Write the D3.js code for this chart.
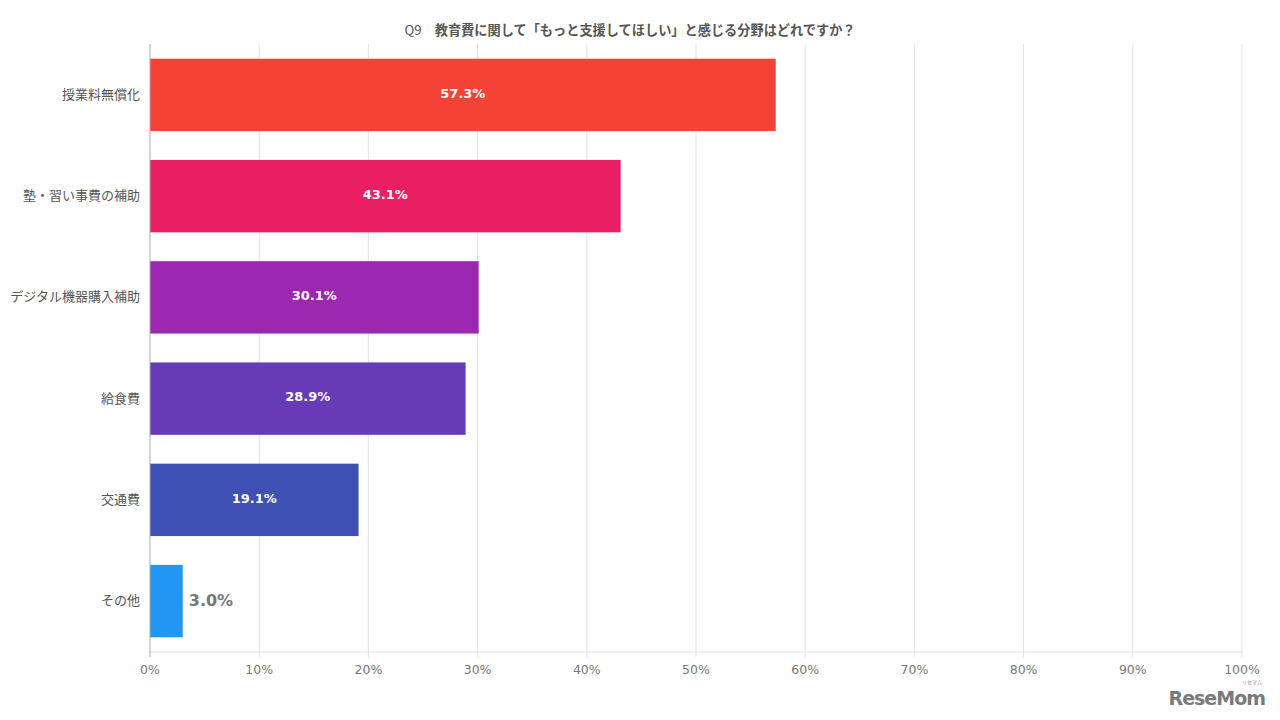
<!DOCTYPE html>
<html><head><meta charset="utf-8">
<script src="https://cdn.jsdelivr.net/npm/d3@7"></script>
<style>body{margin:0;background:#fff;}svg{display:block;font-family:"Noto Sans CJK JP","Noto Sans",sans-serif;}</style>
</head><body>
<svg id="c" width="1280" height="720"></svg>
<script>
const categories = ["授業料無償化","塾・習い事費の補助","デジタル機器購入補助","給食費","交通費","その他"];
const values = [57.3, 43.1, 30.1, 28.9, 19.1, 3.0];
const colors = ["#F44336","#E91E63","#9C27B0","#673AB7","#3F51B5","#2196F3"];
const ticks = [0,10,20,30,40,50,60,70,80,90,100];
const titleQ = "Q9";
const titleText = "教育費に関して「もっと支援してほしい」と感じる分野はどれですか？";

(function(){
const svg = d3.select("#c");
const mLeft = 150, mRight = 1242, mTop = 44, mBottom = 652;
const x = d3.scaleLinear().domain([0,100]).range([mLeft,mRight]);
const y = d3.scaleBand().domain(categories).range([mTop,mBottom]).paddingInner(0.285).paddingOuter(0.145);

svg.append("g").selectAll("line").data(ticks.slice(1)).join("line")
  .attr("x1",d=>x(d)).attr("x2",d=>x(d)).attr("y1",mTop).attr("y2",mBottom+5)
  .attr("stroke","#e3e3e3").attr("stroke-width",1);
svg.append("line").attr("x1",mLeft).attr("x2",mRight).attr("y1",mBottom).attr("y2",mBottom)
  .attr("stroke","#e3e3e3");

svg.append("g").selectAll("rect").data(values).join("rect")
  .attr("x",x(0)).attr("y",(d,i)=>y(categories[i]))
  .attr("width",d=>x(d)-x(0)).attr("height",y.bandwidth())
  .attr("fill",(d,i)=>colors[i]);

svg.append("line").attr("x1",mLeft).attr("x2",mLeft).attr("y1",mTop).attr("y2",mBottom+5)
  .attr("stroke","#aaaaaa").attr("stroke-width",1);

svg.append("g").selectAll("text").data(values).join("text")
  .attr("x",d=> d < 8 ? x(d)+6 : (x(0)+x(d))/2)
  .attr("y",(d,i)=>y(categories[i])+y.bandwidth()/2)
  .attr("dy",d=> d<8 ? "0.3em" : "0.22em")
  .attr("text-anchor",d=> d<8 ? "start":"middle")
  .attr("font-family","Verdana,'DejaVu Sans',sans-serif")
  .attr("font-weight","bold")
  .attr("font-size",d=> d<8 ? 16 : 13)
  .attr("fill",d=> d<8 ? "#777" : "#fff")
  .text(d=>d.toFixed(1)+"%");

svg.append("g").selectAll("text").data(categories).join("text")
  .attr("x",mLeft-10).attr("y",d=>y(d)+y.bandwidth()/2).attr("dy","0.3em")
  .attr("text-anchor","end").attr("font-size",13).attr("fill","#555")
  .text(d=>d);

svg.append("g").selectAll("text").data(ticks).join("text")
  .attr("x",d=>x(d)).attr("y",674).attr("text-anchor","middle")
  .attr("font-family","'DejaVu Sans',Verdana,sans-serif")
  .attr("font-size",12.5).attr("fill","#777").text(d=>d+"%");

const t = svg.append("text").attr("x",630).attr("y",35).attr("text-anchor","middle").attr("font-size",13.2).attr("fill","#555");
t.append("tspan").attr("font-weight","normal").text(titleQ+"\u2003");
t.append("tspan").attr("font-weight","bold").text(titleText);

svg.append("text").attr("x",1265).attr("y",705).attr("text-anchor","end")
  .attr("font-family","'DejaVu Sans',sans-serif").attr("font-weight","bold")
  .attr("font-size",19).attr("fill","#7a7a7a").attr("letter-spacing",-1).text("ReseMom");
svg.append("text").attr("x",1262).attr("y",684).attr("text-anchor","end")
  .attr("font-size",5).attr("fill","#888").text("リセマム");
})();
</script>
</body></html>
